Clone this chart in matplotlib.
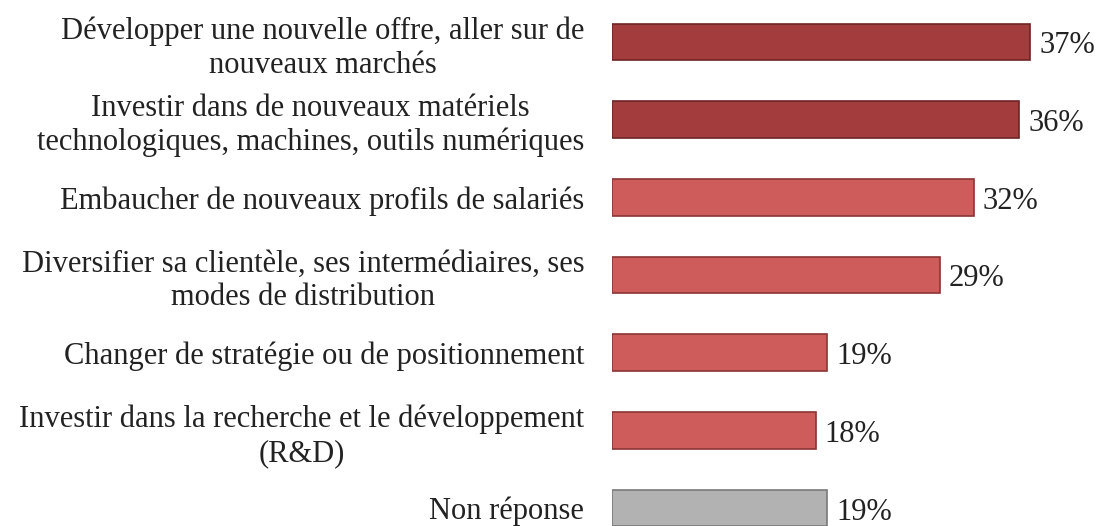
import matplotlib.pyplot as plt

# 데이터
categories = [
    "Développer une nouvelle offre, aller sur de\nnouveaux marchés",
    "Investir dans de nouveaux matériels\ntechnologiques, machines, outils numériques",
    "Embaucher de nouveaux profils de salariés",
    "Diversifier sa clientèle, ses intermédiaires, ses\nmodes de distribution",
    "Changer de stratégie ou de positionnement",
    "Investir dans la recherche et le développement\n(R&D)",
    "Non réponse",
]
values = [37, 36, 32, 29, 19, 18, 19]
colors = ["#A33D3D", "#A33D3D", "#CD5C5A", "#CD5C5A", "#CD5C5A", "#CD5C5A", "#B2B2B2"]
edges = ["#6E2424", "#6E2424", "#8A3533", "#8A3533", "#8A3533", "#8A3533", "#7A7A7A"]

plt.rcParams['font.family'] = ['Liberation Serif', 'DejaVu Serif']

fig = plt.figure(figsize=(11.04, 5.26), dpi=100)
ax = fig.add_axes([612 / 1104, 0, 1 - 612 / 1104, 1])

y = list(range(len(values)))
ax.barh(y, values, height=0.47, color=colors, edgecolor=edges, linewidth=1.2)

for yi, v in zip(y, values):
    ax.text(v + 0.8, yi + 0.05, f"{v}%", va='center', ha='left', fontsize=22, color='#222222')

ax.set_xlim(0, 43.5)
ax.set_ylim(6.23, -0.54)
ax.set_yticks(y)
ax.set_yticklabels(categories, fontsize=22, color='#222222',
                   multialignment='center', linespacing=1.22)
ax.tick_params(axis='y', length=0, pad=20)
ax.set_xticks([])
for s in ax.spines.values():
    s.set_visible(False)

fig.savefig("out.png", dpi=100)
